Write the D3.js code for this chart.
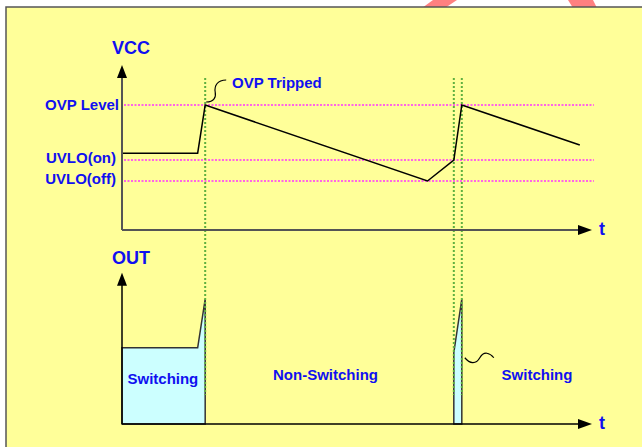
<!DOCTYPE html>
<html>
<head>
<meta charset="utf-8">
<title>OVP timing</title>
<style>
  body { margin: 0; background: #fff; }
  svg { display: block; }
  .lbl { font-family: "Liberation Sans", Arial, sans-serif; font-weight: bold; fill: #1010f0; }
</style>
</head>
<body>
<svg width="642" height="447"></svg>
<script src="https://d3js.org/d3.v7.min.js"></script>
<script>
// time axis runs 0..100, levels in arbitrary units (OVP = 10)
var levelNames = ["OVP Level", "UVLO(on)", "UVLO(off)"];
var levelValues = [10, 5.6, 3.92];

var vccT = [0, 16.1, 17.7, 65, 70.6, 72.3, 97.4];
var vccV = [6.15, 6.15, 10, 3.92, 5.6, 10, 6.8];

var markerT = [17.7, 70.6, 72.3];

var out1T = [0, 0, 16.1, 17.7, 17.7];
var out1V = [0, 6.1, 6.1, 10, 0];
var out2T = [70.6, 70.6, 72.3, 72.3];
var out2V = [0, 5.7, 10, 0];

var regionNames = ["Switching", "Non-Switching", "Switching"];
var regionT = [8.7, 43.3, 88.3];

var svg = d3.select("svg");

var x = d3.scaleLinear().domain([0, 100]).range([122, 592]);
var yV = d3.scaleLinear().domain([0, 10]).range([230, 105]);
var yO = d3.scaleLinear().domain([0, 10]).range([424, 299]);

// red watermark remnants above the panel
svg.append("path").attr("fill", "#ff8080").attr("d", "M422,8L433,0L457,0L445,8Z");
svg.append("path").attr("fill", "#ff8080").attr("d", "M568,0L593,0L597,8L573,8Z");

svg.append("rect").attr("x", 6).attr("y", 7).attr("width", 650).attr("height", 450)
  .attr("fill", "#ffff99").attr("stroke", "#555").attr("stroke-width", 1.5);

// threshold lines
svg.append("g").selectAll("line").data(levelValues).join("line")
  .attr("x1", x(0) + 2).attr("x2", x(100.4))
  .attr("y1", d => yV(d)).attr("y2", d => yV(d))
  .attr("stroke", "#ff33ff").attr("stroke-width", 1.5).attr("stroke-dasharray", "2,1.5");

svg.append("g").selectAll("text").data(levelNames).join("text")
  .attr("class", "lbl").attr("font-size", 15)
  .attr("text-anchor", "end")
  .attr("x", (d, i) => i == 0 ? 119 : 116)
  .attr("y", (d, i) => yV(levelValues[i]) + (i == 0 ? 0 : -2))
  .attr("dy", "0.36em")
  .text(d => d);

// switching boxes
var area = d3.line().x(d => x(d[0])).y(d => yO(d[1]));
[[out1T, out1V], [out2T, out2V]].forEach(function(s) {
  var pts = s[0].map((t, i) => [t, s[1][i]]);
  svg.append("path").attr("d", area(pts) + "Z")
    .attr("fill", "#ccffff").attr("stroke", "#333").attr("stroke-width", 1.5);
});

// green markers
svg.append("g").selectAll("line").data(markerT).join("line")
  .attr("x1", d => x(d)).attr("x2", d => x(d))
  .attr("y1", 78).attr("y2", 395)
  .attr("stroke", "#5fb040").attr("stroke-width", 2).attr("stroke-dasharray", "2,2");

// VCC waveform
svg.append("path")
  .attr("d", d3.line().x((d, i) => x(vccT[i])).y((d, i) => yV(vccV[i]))(vccT))
  .attr("fill", "none").attr("stroke", "#000").attr("stroke-width", 1.5);

// axes with arrows
function axes(y, top, col, w) {
  svg.append("line").attr("x1", x(0)).attr("x2", x(0)).attr("y1", y(0)).attr("y2", y(top) + 10)
    .attr("stroke", col).attr("stroke-width", w);
  svg.append("line").attr("x1", x(0)).attr("x2", x(100) - 12).attr("y1", y(0)).attr("y2", y(0))
    .attr("stroke", col).attr("stroke-width", w);
  var tx = x(0), ty = y(top);
  svg.append("path").attr("d", "M" + tx + "," + ty + "L" + (tx - 5) + "," + (ty + 13) + "L" + (tx + 5) + "," + (ty + 13) + "Z");
  var ax = x(100), ay = y(0);
  svg.append("path").attr("d", "M" + ax + "," + ay + "L" + (ax - 14) + "," + (ay - 5) + "L" + (ax - 14) + "," + (ay + 5) + "Z");
  svg.append("text").attr("class", "lbl").attr("font-size", 18)
    .attr("x", ax + 7).attr("y", ay + 5).text("t");
}
axes(yV, 13.2, "#555", 2);
axes(yO, 12.1, "#000", 1.5);

svg.append("text").attr("class", "lbl").attr("font-size", 18)
  .attr("x", 112).attr("y", 54).text("VCC");
svg.append("text").attr("class", "lbl").attr("font-size", 18)
  .attr("x", 112).attr("y", 264).text("OUT");

// annotations
var px = x(17.7), py = yV(10);
svg.append("path")
  .attr("d", "M" + (px + 1) + "," + (py - 3) + "C" + (px + 9) + "," + (py - 3) + " " + (px + 11) + "," + (py - 8) + " " + (px + 10) + "," + (py - 13) +
    "C" + (px + 9) + "," + (py - 19) + " " + (px + 12) + "," + (py - 25) + " " + (px + 21) + "," + (py - 25))
  .attr("fill", "none").attr("stroke", "#000").attr("stroke-width", 1.2);
svg.append("text").attr("class", "lbl").attr("font-size", 15)
  .attr("x", 232).attr("y", 83).attr("dy", "0.36em").text("OVP Tripped");

var qx = x(72.3) + 3, qy = yO(5.3);
svg.append("path")
  .attr("d", "M" + qx + "," + qy + "C" + (qx + 5) + "," + (qy + 6) + " " + (qx + 11) + "," + (qy + 7) + " " + (qx + 15) + "," + qy +
    "C" + (qx + 19) + "," + (qy - 7) + " " + (qx + 25) + "," + (qy - 5) + " " + (qx + 29) + "," + qy)
  .attr("fill", "none").attr("stroke", "#000").attr("stroke-width", 1.2);

svg.append("g").selectAll("text").data(regionNames).join("text")
  .attr("class", "lbl").attr("font-size", 15).attr("text-anchor", "middle")
  .attr("x", (d, i) => x(regionT[i])).attr("y", (d, i) => i == 0 ? 379 : 375)
  .attr("dy", "0.36em").text(d => d);
</script>
</body>
</html>
